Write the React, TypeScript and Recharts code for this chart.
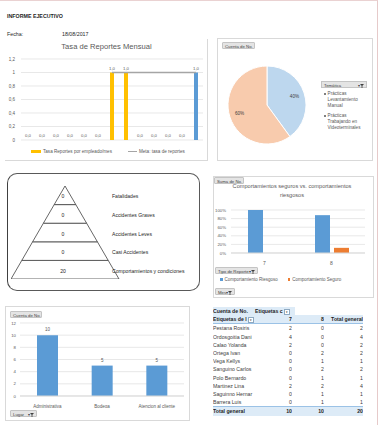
import React from 'react';
import {
  ComposedChart, Bar, Line, XAxis, YAxis, CartesianGrid, Legend, LabelList, Cell,
  PieChart, Pie, BarChart, FunnelChart, Funnel,
} from 'recharts';

// ---------- data ----------
const months = ['1', '2', '3', '4', '5', '6', '7', '8', '9', '10', '11', '12', '13'];
const tasaReportes = [0, 0, 0, 0, 0, 0, 1, 1, 0, 0, 0, 0, 1];
const metaTasa: (number | null)[] = [null, null, null, null, null, null, 1, 1, 1, 1, 1, 1, 1];
const highlightMonth = '13';
const rateTicks = [0, 0.2, 0.4, 0.6, 0.8, 1, 1.2];

const tematicas = ['Prácticas Levantamiento Manual', 'Prácticas Trabajando en Videoterminales'];
const tematicaCounts = [8, 12];

const pyramidLevels = ['Fatalidades', 'Accidentes Graves', 'Accidentes Leves', 'Casi Accidentes', 'Comportamientos y condiciones'];
const pyramidCounts = [0, 0, 0, 0, 20];

const meses = ['7', '8'];
const riesgoso = [100, 88];
const seguro = [0, 12];
const pctTicks = [0, 20, 40, 60, 80, 100];

const lugares = ['Administrativa', 'Bodega', 'Atencion al cliente'];
const lugarCounts = [10, 5, 5];
const countTicks = [0, 2, 4, 6, 8, 10, 12];

const personas = ['Pestana Rosiris', 'Ordosgoitia Dani', 'Calao Yolanda', 'Ortega Ivan', 'Vega Kellys', 'Sanguino Carlos', 'Polo Bernardo', 'Martinez Lina', 'Saguinno Hernar', 'Barrera Luis'];
const mes7 = [2, 4, 2, 0, 0, 0, 0, 2, 0, 0];
const mes8 = [0, 0, 0, 2, 1, 2, 1, 2, 1, 1];

// ---------- styles ----------
const FONT = '"Liberation Sans", Arial, sans-serif';
const GREY = '#595959';
const BLUE = '#5B9BD5';
const ORANGE = '#ED7D31';
const YELLOW = '#FFC000';
const PIE_COLORS = ['#BDD7EE', '#F8CBAD'];

const rateData = months.map((m, i) => ({ month: m, tasa: tasaReportes[i], meta: metaTasa[i] }));
const pieData = tematicas.map((t, i) => ({ name: t, value: tematicaCounts[i] }));
const pyramidData = pyramidLevels
  .map((name, i) => ({ name, count: pyramidCounts[i], level: i + 1 }))
  .reverse();
const mesData = meses.map((m, i) => ({ mes: m, riesgoso: riesgoso[i], seguro: seguro[i] }));
const lugarData = lugares.map((l, i) => ({ lugar: l, count: lugarCounts[i] }));

const fmtDec = (v: any) => String(v).replace('.', ',');
const fmtOne = (v: any) => Number(v).toFixed(1).replace('.', ',');

function FilterIcon() {
  return (
    <svg width={4} height={4} viewBox="0 0 4 4" style={{ display: 'inline-block', verticalAlign: 'middle' }}>
      <polygon points="0,0 4,0 2.4,1.8 2.4,4 1.6,4 1.6,1.8" fill="#404040" />
    </svg>
  );
}

function FieldButton({ x, y, w, label, filter }: { x: number; y: number; w: number; label: string; filter?: boolean }) {
  return (
    <div
      style={{
        position: 'absolute', left: x, top: y, width: w, height: 7, background: '#E4E4E4',
        border: '0.5px solid #C4C4C4', borderRadius: 1, fontSize: 4.3, lineHeight: '7px', color: '#404040',
        paddingLeft: 2, boxSizing: 'border-box', whiteSpace: 'nowrap',
      }}
    >
      {label}
      {filter && (
        <span style={{ position: 'absolute', right: 2, top: 0, fontSize: 4 }}>
          ▾<FilterIcon />
        </span>
      )}
    </div>
  );
}

const panelBorder = '0.6px solid #D9D9D9';

function RateLegend(props: any) {
  const payload = [...(props.payload || [])].sort((a: any, b: any) => (a.type === 'line' ? 1 : 0) - (b.type === 'line' ? 1 : 0));
  return (
    <div style={{ display: 'flex', alignItems: 'center', fontSize: 4.6, color: GREY, fontFamily: FONT, whiteSpace: 'nowrap' }}>
      {payload.map((p: any, i: number) => (
        <div key={i} style={{ display: 'flex', alignItems: 'center', marginRight: 16, flexShrink: 0 }}>
          {p.type === 'line' ? (
            <div style={{ width: 9, height: 1.3, background: '#A5A5A5', marginRight: 2 }} />
          ) : (
            <div style={{ width: 10, height: 3, background: YELLOW, marginRight: 2 }} />
          )}
          <span>{p.value}</span>
        </div>
      ))}
    </div>
  );
}

function PieLegend(props: any) {
  const payload = props.payload || [];
  return (
    <div style={{ fontFamily: FONT, width: 46 }}>
      <div
        style={{
          position: 'relative', height: 7, background: '#E4E4E4', border: '0.5px solid #C4C4C4',
          fontSize: 4.3, lineHeight: '7px', color: '#404040', paddingLeft: 2, boxSizing: 'border-box',
        }}
      >
        Temática
        <span style={{ position: 'absolute', right: 2, top: 0, fontSize: 4 }}>▾<FilterIcon /></span>
      </div>
      {payload.map((p: any, i: number) => (
        <div key={i} style={{ display: 'flex', marginTop: 3, fontSize: 4.6, lineHeight: '6.2px', color: GREY }}>
          <div style={{ width: 1.6, height: 1.6, background: '#7F7F7F', marginLeft: 3, marginRight: 2, marginTop: 2.4, flexShrink: 0 }} />
          <div style={{ width: 36 }}>{p.value}</div>
        </div>
      ))}
    </div>
  );
}

function MesLegend(props: any) {
  const payload = props.payload || [];
  return (
    <div style={{ display: 'flex', alignItems: 'center', fontSize: 4.5, color: GREY, fontFamily: FONT, whiteSpace: 'nowrap' }}>
      {payload.map((p: any, i: number) => (
        <div key={i} style={{ display: 'flex', alignItems: 'center', marginRight: 10 }}>
          <div style={{ width: 2.5, height: 2.5, background: p.color, marginRight: 2 }} />
          <span>{p.value}</span>
        </div>
      ))}
    </div>
  );
}

const RADIAN = Math.PI / 180;
function pieLabel(p: any) {
  const r = p.outerRadius * 0.74;
  const x = p.cx + r * Math.cos(-p.midAngle * RADIAN);
  const y = p.cy + r * Math.sin(-p.midAngle * RADIAN);
  return (
    <text x={x} y={y} fill="#404040" fontSize={4.6} textAnchor="middle" dominantBaseline="central" fontFamily={FONT}>
      {`${Math.round(p.percent * 100)}%`}
    </text>
  );
}

const PYR_W = 108;          // pyramid base width
const PYR_CHART_W = 200;    // chart width (room for the level names)

function pyramidText(xPos: number, anchor: 'middle' | 'start') {
  return (p: any) => {
    const vb = p.viewBox || {};
    const cy = (vb.y ?? p.y ?? 0) + (vb.height ?? p.height ?? 0) / 2;
    return (
      <text x={xPos} y={cy + 1} textAnchor={anchor} dominantBaseline="central" fontSize={5.1} fill="#262626" fontFamily={FONT}>
        {p.value}
      </text>
    );
  };
}

export default function App() {
  const totals7 = mes7.reduce((a, b) => a + b, 0);
  const totals8 = mes8.reduce((a, b) => a + b, 0);
  const cell: React.CSSProperties = { padding: 0, height: 8.2, whiteSpace: 'nowrap', overflow: 'hidden' };
  const ddBox: React.CSSProperties = { display: 'inline-block', width: 4, height: 4, border: '0.4px solid #8EA9C1', background: '#fff', fontSize: 3, lineHeight: '4px', textAlign: 'center', verticalAlign: 'middle' };
  return (
    <div
      style={{
        position: 'absolute', left: 0, top: 0, width: 378, height: 425, background: '#fff', overflow: 'hidden',
        fontFamily: FONT, color: '#000', boxSizing: 'border-box', borderTop: '1px solid #EAD2D2', borderRight: '1.5px solid #E6CACA',
      }}
    >
      {/* header */}
      <div style={{ position: 'absolute', left: 7, top: 12, fontSize: 5.3, fontWeight: 'bold', color: '#1F1F1F' }}>INFORME EJECUTIVO</div>
      <div style={{ position: 'absolute', left: 7, top: 30, fontSize: 5.3, color: '#1F1F1F' }}>Fecha:</div>
      <div style={{ position: 'absolute', left: 62, top: 30, fontSize: 5.3, color: '#1F1F1F' }}>18/08/2017</div>

      {/* Panel 1: Tasa de Reportes Mensual */}
      <div style={{ position: 'absolute', left: 5, top: 38, width: 203, height: 122, borderRight: panelBorder, borderBottom: panelBorder, boxSizing: 'border-box' }} />
      <div style={{ position: 'absolute', left: 5, top: 41, width: 203, textAlign: 'center', fontSize: 7.6, color: GREY }}>Tasa de Reportes Mensual</div>
      <div style={{ position: 'absolute', left: 5, top: 38 }}>
        <ComposedChart width={203} height={122} data={rateData} margin={{ top: 20, right: 5, bottom: 21, left: 4 }}>
          <CartesianGrid vertical={false} stroke="#D9D9D9" strokeWidth={0.6} />
          <XAxis dataKey="month" hide />
          <YAxis
            width={12} domain={[0, 1.2]} ticks={rateTicks} tickFormatter={fmtDec} axisLine={false}
            tickLine={false} tickSize={0} tickMargin={6} tick={{ fontSize: 4.5, fill: GREY }} interval={0}
          />
          <Bar dataKey="tasa" name="Tasa Reportes por empleado/mes" fill={YELLOW} barSize={4} minPointSize={0.01} isAnimationActive={false}>
            {rateData.map((d) => (
              <Cell key={d.month} fill={d.month === highlightMonth ? BLUE : YELLOW} />
            ))}
            <LabelList dataKey="tasa" position="top" offset={3} formatter={fmtOne} style={{ fontSize: 4.3, fill: GREY }} />
          </Bar>
          <Line dataKey="meta" name="Meta: tasa de reportes" stroke="#A5A5A5" strokeWidth={1.5} dot={false} isAnimationActive={false} />
          <Legend
            layout="horizontal" verticalAlign="middle" align="center" content={RateLegend}
            wrapperStyle={{ left: 26, top: 110, width: 175, height: 6 }}
          />
        </ComposedChart>
      </div>

      {/* Panel 2: pie */}
      <div style={{ position: 'absolute', left: 217, top: 37, width: 156, height: 123, border: panelBorder, boxSizing: 'border-box' }} />
      <FieldButton x={222} y={41} w={33} label="Cuenta de No." />
      <div style={{ position: 'absolute', left: 217, top: 37 }}>
        <PieChart width={156} height={123} margin={{ top: 0, right: 0, bottom: 0, left: 0 }}>
          <Pie
            data={pieData} dataKey="value" nameKey="name" cx={50} cy={67} outerRadius={39}
            startAngle={90} endAngle={-270} stroke="#fff" strokeWidth={1} label={pieLabel} labelLine={false}
            isAnimationActive={false}
          >
            {pieData.map((d, i) => (
              <Cell key={d.name} fill={PIE_COLORS[i]} />
            ))}
          </Pie>
          <Legend
            layout="horizontal" verticalAlign="middle" align="center" content={PieLegend}
            wrapperStyle={{ left: 104, top: 43, width: 48 }}
          />
        </PieChart>
      </div>

      {/* Panel 3: pyramid */}
      <div style={{ position: 'absolute', left: 7, top: 172, width: 193, height: 118, border: '0.8px solid #595959', borderLeft: '1.6px solid #404040', borderRadius: 10, boxSizing: 'border-box' }} />
      <div style={{ position: 'absolute', left: 11, top: 185 }}>
        <FunnelChart width={PYR_CHART_W} height={93} margin={{ top: 0, right: 0, bottom: 0, left: 0 }}>
          <Funnel
            data={pyramidData} dataKey="level" nameKey="name" reversed lastShapeType="triangle" width={PYR_W}
            fill="#fff" stroke="#404040" strokeWidth={0.8} isAnimationActive={false}
          >
            <LabelList dataKey="count" content={pyramidText(52, 'middle')} />
            <LabelList dataKey="name" content={pyramidText(101, 'start')} />
          </Funnel>
        </FunnelChart>
      </div>

      {/* Panel 4: comportamientos */}
      <div style={{ position: 'absolute', left: 213, top: 175, width: 161, height: 122, border: panelBorder, boxSizing: 'border-box' }} />
      <div style={{ position: 'absolute', left: 228, top: 181, width: 128, textAlign: 'center', fontSize: 5.6, lineHeight: '8.5px', color: GREY }}>
        Comportamientos seguros vs. comportamientos riesgosos
      </div>
      <FieldButton x={214} y={176} w={30} label="Suma de No." />
      <div style={{ position: 'absolute', left: 213, top: 200 }}>
        <BarChart width={160} height={70} data={mesData} margin={{ top: 9, right: 8, bottom: 8, left: 4 }} barGap={4}>
          <CartesianGrid vertical={false} stroke="#D9D9D9" strokeWidth={0.6} />
          <XAxis dataKey="mes" height={10} tickLine={false} axisLine={{ stroke: '#D9D9D9' }} tick={{ fontSize: 5, fill: GREY }} tickMargin={2} />
          <YAxis
            width={14} domain={[0, 100]} ticks={pctTicks} tickFormatter={(v: any) => `${v}%`} axisLine={false}
            tickLine={false} tickSize={0} tickMargin={5} tick={{ fontSize: 4.3, fill: GREY }} interval={0}
          />
          <Bar dataKey="riesgoso" name="Comportamiento Riesgoso" fill={BLUE} barSize={15} isAnimationActive={false} />
          <Bar dataKey="seguro" name="Comportamiento Seguro" fill={ORANGE} barSize={15} isAnimationActive={false} />
        </BarChart>
      </div>
      <FieldButton x={215} y={266} w={43} label="Tipo de Reporte" filter />
      <div style={{ position: 'absolute', left: 220, top: 276 }}>
        <MesLegend payload={[{ value: 'Comportamiento Riesgoso', color: BLUE }, { value: 'Comportamiento Seguro', color: ORANGE }]} />
      </div>
      <FieldButton x={215} y={287} w={20} label="Mes" filter />

      {/* Panel 5: lugar */}
      <div style={{ position: 'absolute', left: 5, top: 305, width: 185, height: 115, border: panelBorder, boxSizing: 'border-box' }} />
      <FieldButton x={10} y={310} w={32} label="Cuenta de No." />
      <div style={{ position: 'absolute', left: 5, top: 312 }}>
        <BarChart width={185} height={95} data={lugarData} margin={{ top: 10, right: 6, bottom: 0, left: 5 }}>
          <CartesianGrid vertical={false} stroke="#D9D9D9" strokeWidth={0.6} />
          <XAxis dataKey="lugar" height={12} tickLine={false} axisLine={{ stroke: '#D9D9D9' }} tick={{ fontSize: 4.5, fill: GREY }} tickMargin={3} interval={0} />
          <YAxis
            width={10} domain={[0, 12]} ticks={countTicks} axisLine={false} tickLine={false} tickSize={0}
            tickMargin={4} tick={{ fontSize: 4.3, fill: GREY }} interval={0}
          />
          <Bar dataKey="count" fill={BLUE} barSize={21} isAnimationActive={false}>
            <LabelList dataKey="count" position="top" offset={4} style={{ fontSize: 4.5, fill: GREY }} />
          </Bar>
        </BarChart>
      </div>
      <FieldButton x={10} y={409} w={27} label="Lugar" filter />

      {/* Panel 6: pivot table */}
      <table
        style={{
          position: 'absolute', left: 213, top: 306, width: 150, borderCollapse: 'collapse', tableLayout: 'fixed',
          fontSize: 5.2, color: '#404040', fontFamily: FONT, lineHeight: '8.2px',
        }}
      >
        <colgroup>
          <col style={{ width: 70 }} />
          <col style={{ width: 9 }} />
          <col style={{ width: 32 }} />
          <col style={{ width: 39 }} />
        </colgroup>
        <tbody>
          <tr>
            <td style={{ ...cell, background: '#DDEBF7', fontWeight: 'bold', color: '#1F1F1F' }}>Cuenta de No.</td>
            <td style={{ ...cell, background: '#DDEBF7', fontWeight: 'bold', color: '#1F1F1F', overflow: 'visible', position: 'relative' }}>
              <span style={{ position: 'absolute', left: -28, top: 0, background: '#DDEBF7', width: 40 }}>
                Etiquetas c <span style={ddBox}>▾</span>
              </span>
            </td>
            <td style={cell} />
            <td style={cell} />
          </tr>
          <tr style={{ background: '#DDEBF7', fontWeight: 'bold', color: '#1F1F1F', borderBottom: '0.5px solid #9BC2E6' }}>
            <td style={cell}>
              Etiquetas de l <span style={ddBox}>▾</span>
            </td>
            <td style={{ ...cell, textAlign: 'right' }}>{meses[0]}</td>
            <td style={{ ...cell, textAlign: 'right' }}>{meses[1]}</td>
            <td style={{ ...cell, textAlign: 'right' }}>Total general</td>
          </tr>
          {personas.map((p, i) => (
            <tr key={p}>
              <td style={cell}>{p}</td>
              <td style={{ ...cell, textAlign: 'right' }}>{mes7[i]}</td>
              <td style={{ ...cell, textAlign: 'right' }}>{mes8[i]}</td>
              <td style={{ ...cell, textAlign: 'right' }}>{mes7[i] + mes8[i]}</td>
            </tr>
          ))}
          <tr style={{ background: '#DDEBF7', fontWeight: 'bold', color: '#1F1F1F', borderTop: '0.5px solid #9BC2E6' }}>
            <td style={cell}>Total general</td>
            <td style={{ ...cell, textAlign: 'right' }}>{totals7}</td>
            <td style={{ ...cell, textAlign: 'right' }}>{totals8}</td>
            <td style={{ ...cell, textAlign: 'right' }}>{totals7 + totals8}</td>
          </tr>
        </tbody>
      </table>
    </div>
  );
}
